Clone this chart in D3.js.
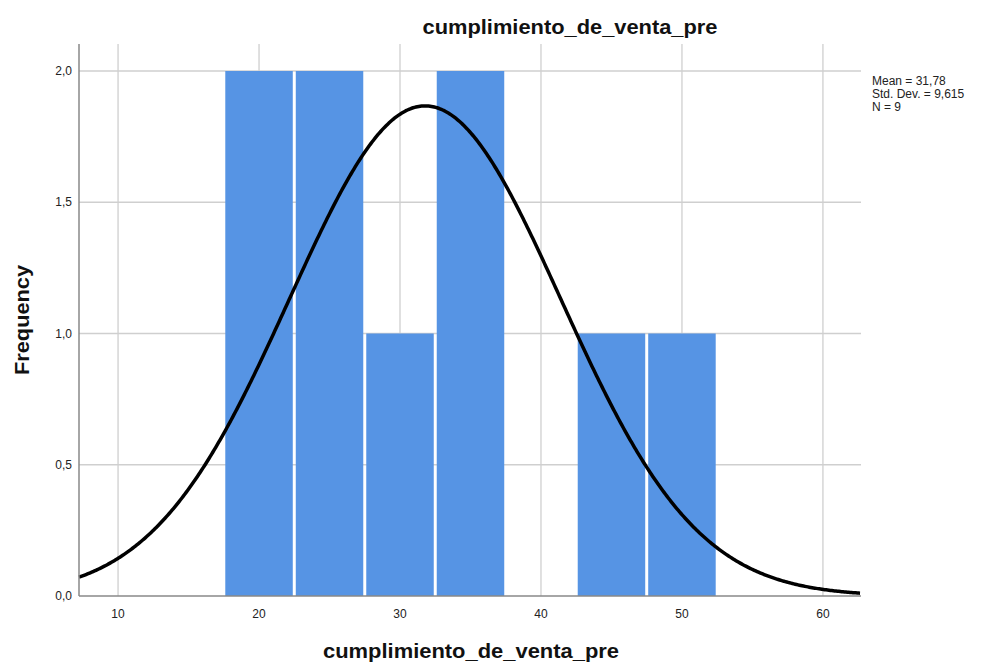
<!DOCTYPE html>
<html lang="es">
<head>
<meta charset="UTF-8">
<title>cumplimiento_de_venta_pre</title>
<script src="https://d3js.org/d3.v7.min.js"></script>
<style>
    body, html { margin: 0; padding: 0; background: #fff; overflow: hidden; }
    svg { display: block; }
    text { font-family: "Liberation Sans", Arial, sans-serif; fill: #222; }
</style>
</head>
<body>
<svg width="989" height="663"></svg>
<script>
    // histogram bins (lower edge) and counts
    const binStarts = [17.5, 22.5, 27.5, 32.5, 37.5, 42.5, 47.5];
    const binWidth = 5;
    const counts = [2, 2, 1, 2, 0, 1, 1];
    const xTicks = [10, 20, 30, 40, 50, 60];
    const yTicks = [0, 0.5, 1.0, 1.5, 2.0];
    const stats = { mean: 31.78, sd: 9.615, n: 9 };
    const legendLines = ['Mean = 31,78', 'Std. Dev. = 9,615', 'N = 9'];

    const svg = d3.select('svg');
    const plotLeft = 79, plotRight = 861, plotTop = 44, plotBottom = 596;

    const x = d3.scaleLinear().domain([7.23, 62.7]).range([plotLeft, plotRight]);
    const y = d3.scaleLinear().domain([0, 2.0]).range([plotBottom, 71]);

    // grid
    svg.append('g').selectAll('line')
        .data(xTicks)
        .enter().append('line')
        .attr('x1', d => x(d)).attr('x2', d => x(d))
        .attr('y1', plotTop).attr('y2', plotBottom)
        .attr('stroke', '#cfcfcf').attr('stroke-width', 1.3);

    svg.append('g').selectAll('line')
        .data(yTicks.filter(d => d > 0))
        .enter().append('line')
        .attr('x1', plotLeft).attr('x2', plotRight)
        .attr('y1', d => y(d)).attr('y2', d => y(d))
        .attr('stroke', '#cfcfcf').attr('stroke-width', 1.3);

    // bars
    svg.append('g').selectAll('rect')
        .data(binStarts.map((s, i) => ({ s: s, c: counts[i] })).filter(d => d.c > 0))
        .enter().append('rect')
        .attr('x', d => x(d.s) + 1.5)
        .attr('width', d => x(d.s + binWidth) - x(d.s) - 3)
        .attr('y', d => y(d.c))
        .attr('height', d => y(0) - y(d.c))
        .attr('fill', '#5694e4');

    // normal curve
    const pdf = v => Math.exp(-0.5 * Math.pow((v - stats.mean) / stats.sd, 2)) / (stats.sd * Math.sqrt(2 * Math.PI));
    const curve = d3.range(x.domain()[0], x.domain()[1] + 0.01, 0.1)
        .map(v => [v, stats.n * binWidth * pdf(v)]);

    svg.append('path')
        .datum(curve)
        .attr('d', d3.line().x(d => x(d[0])).y(d => y(d[1])))
        .attr('fill', 'none')
        .attr('stroke', '#000')
        .attr('stroke-width', 3.5);

    // axes lines
    svg.append('line')
        .attr('x1', plotLeft).attr('x2', plotLeft).attr('y1', plotTop).attr('y2', plotBottom)
        .attr('stroke', '#888').attr('stroke-width', 1.5);
    svg.append('line')
        .attr('x1', plotLeft).attr('x2', plotRight).attr('y1', plotBottom).attr('y2', plotBottom)
        .attr('stroke', '#888').attr('stroke-width', 1.5);

    // tick labels
    const fmt = d => d3.format('.1f')(d).replace('.', ',');
    svg.append('g').selectAll('text')
        .data(yTicks)
        .enter().append('text')
        .attr('x', 72).attr('y', d => y(d) + 4)
        .attr('text-anchor', 'end')
        .style('font-size', '12px')
        .text(fmt);

    svg.append('g').selectAll('text')
        .data(xTicks)
        .enter().append('text')
        .attr('x', d => x(d)).attr('y', 618)
        .attr('text-anchor', 'middle')
        .style('font-size', '12px')
        .text(d => d);

    // titles
    svg.append('text')
        .attr('x', 570).attr('y', 34)
        .attr('text-anchor', 'middle')
        .style('font-size', '21px').style('font-weight', 'bold').style('fill', '#111')
        .attr('textLength', 295).attr('lengthAdjust', 'spacingAndGlyphs')
        .text('cumplimiento_de_venta_pre');

    svg.append('text')
        .attr('x', 471).attr('y', 658)
        .attr('text-anchor', 'middle')
        .style('font-size', '21px').style('font-weight', 'bold').style('fill', '#111')
        .attr('textLength', 296).attr('lengthAdjust', 'spacingAndGlyphs')
        .text('cumplimiento_de_venta_pre');

    svg.append('text')
        .attr('transform', 'translate(29,320) rotate(-90)')
        .attr('text-anchor', 'middle')
        .style('font-size', '21px').style('font-weight', 'bold').style('fill', '#111')
        .attr('textLength', 110).attr('lengthAdjust', 'spacingAndGlyphs')
        .text('Frequency');

    // legend
    svg.append('g').selectAll('text')
        .data(legendLines)
        .enter().append('text')
        .attr('x', 872).attr('y', (d, i) => 85 + i * 13)
        .style('font-size', '12px')
        .text(d => d);
</script>
</body>
</html>
